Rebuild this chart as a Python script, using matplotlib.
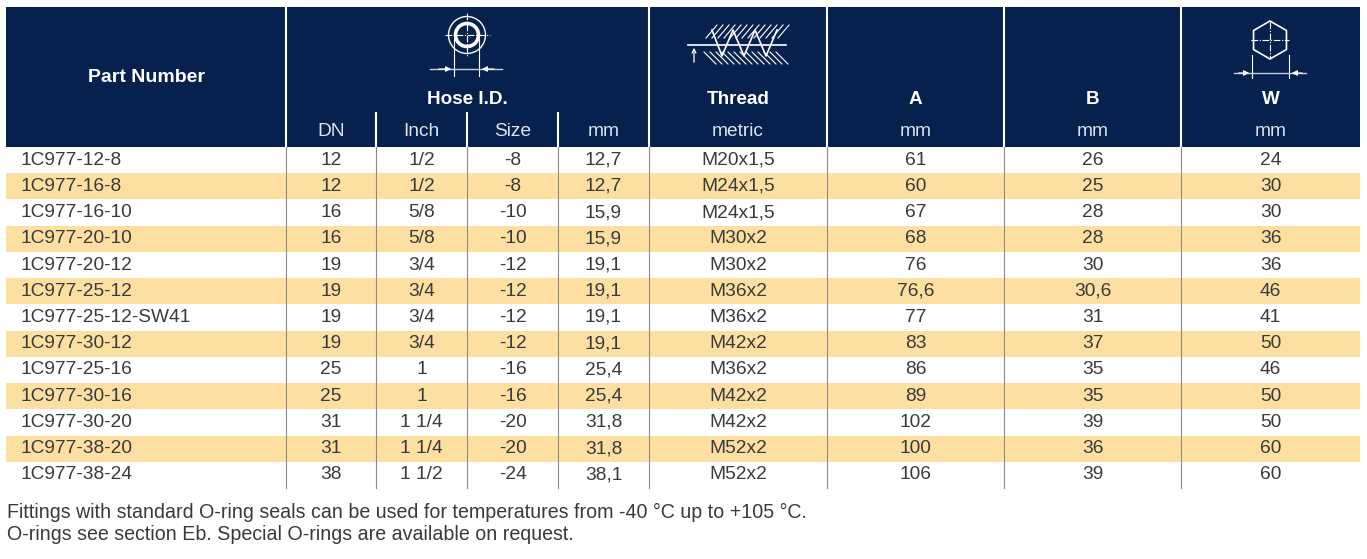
import matplotlib.pyplot as plt
import numpy as np
from matplotlib.patches import Rectangle, Circle, RegularPolygon

# table data
part_no = ['1C977-12-8', '1C977-16-8', '1C977-16-10', '1C977-20-10', '1C977-20-12',
           '1C977-25-12', '1C977-25-12-SW41', '1C977-30-12', '1C977-25-16', '1C977-30-16',
           '1C977-30-20', '1C977-38-20', '1C977-38-24']
dn = ['12', '12', '16', '16', '19', '19', '19', '19', '25', '25', '31', '31', '38']
inch = ['1/2', '1/2', '5/8', '5/8', '3/4', '3/4', '3/4', '3/4', '1', '1', '1 1/4', '1 1/4', '1 1/2']
size = ['-8', '-8', '-10', '-10', '-12', '-12', '-12', '-12', '-16', '-16', '-20', '-20', '-24']
hose_mm = ['12,7', '12,7', '15,9', '15,9', '19,1', '19,1', '19,1', '19,1', '25,4', '25,4', '31,8', '31,8', '38,1']
thread = ['M20x1,5', 'M24x1,5', 'M24x1,5', 'M30x2', 'M30x2', 'M36x2', 'M36x2', 'M42x2',
          'M36x2', 'M42x2', 'M42x2', 'M52x2', 'M52x2']
a_mm = ['61', '60', '67', '68', '76', '76,6', '77', '83', '86', '89', '102', '100', '106']
b_mm = ['26', '25', '28', '28', '30', '30,6', '31', '37', '35', '35', '39', '36', '39']
w_mm = ['24', '30', '30', '36', '36', '46', '41', '50', '46', '50', '50', '60', '60']

sub_headers = ['DN', 'Inch', 'Size', 'mm', 'metric', 'mm', 'mm', 'mm']
notes = ['Fittings with standard O-ring seals can be used for temperatures from -40 °C up to +105 °C.',
         'O-rings see section Eb. Special O-rings are available on request.']

# layout (pixels)
edges = [6, 286, 376, 467, 558, 649, 827, 1004, 1181, 1360]
head_top, head_bot = 7, 147
body_bot = 488
navy = '#07214f'
tan = '#fddfa1'
txt = '#3a3a3a'
font = 'Liberation Sans'
fs = 13.8

fig = plt.figure(figsize=(13.67, 5.59), dpi=100)
ax = fig.add_axes([0, 0, 1, 1])
ax.set_xlim(0, 1367)
ax.set_ylim(559, 0)
ax.axis('off')

# header block
ax.add_patch(Rectangle((edges[0], head_top), edges[-1] - edges[0], head_bot - head_top,
                       color=navy, lw=0))
for x in [286, 649, 827, 1004, 1181]:
    ax.plot([x, x], [head_top, head_bot], color='white', lw=1.5)
for x in [376, 467, 558]:
    ax.plot([x, x], [113, head_bot], color='white', lw=1.5)

ax.text((edges[0] + edges[1]) / 2, 78, 'Part Number', color='white', fontsize=14,
        fontweight='bold', ha='center', va='center', family=font)
ax.text((edges[1] + edges[5]) / 2, 99, 'Hose I.D.', color='white', fontsize=13.6,
        fontweight='bold', ha='center', va='center', family=font)
for lab, i in [('Thread', 5), ('A', 6), ('B', 7), ('W', 8)]:
    ax.text((edges[i] + edges[i + 1]) / 2, 99, lab, color='white', fontsize=13.6,
            fontweight='bold', ha='center', va='center', family=font)
for i, lab in enumerate(sub_headers):
    ax.text((edges[i + 1] + edges[i + 2]) / 2, 131, lab, color='#dfe3ec', fontsize=fs,
            ha='center', va='center', family=font)

# hose icon
cx, cy = 467, 35
ax.add_patch(Circle((cx, cy), 18.5, fill=False, ec='white', lw=1))
ax.add_patch(Circle((cx, cy), 11.5, fill=False, ec='white', lw=2.6))
ax.plot([cx, cx], [13, 57], color='white', lw=0.8, dashes=[6, 1.5, 1, 1.5])
ax.plot([445, 490], [cy, cy], color='white', lw=0.8, dashes=[6, 1.5, 1, 1.5])
ax.plot([454, 454], [39, 76], color='white', lw=0.8)
ax.plot([479, 479], [39, 76], color='white', lw=0.8)
ax.plot([430, 502], [69, 69], color='#c8cde0', lw=1)
ax.annotate('', xy=(454, 69), xytext=(436, 69),
            arrowprops=dict(arrowstyle='-|>', color='white', lw=0.8, mutation_scale=8))
ax.annotate('', xy=(479, 69), xytext=(497, 69),
            arrowprops=dict(arrowstyle='-|>', color='white', lw=0.8, mutation_scale=8))

# thread icon
ax.plot([688, 786], [45, 45], color='white', lw=1.2)
ax.annotate('', xy=(694, 45), xytext=(694, 65),
            arrowprops=dict(arrowstyle='->', color='white', lw=0.9, mutation_scale=7))
zx = [712, 722, 733, 744, 755, 766, 777]
zy = [30, 56, 30, 56, 30, 56, 30]
ax.plot(zx, zy, color='white', lw=1.2)
for x0 in np.arange(706, 784, 6):
    ax.plot([x0, x0 + 11], [38, 25], color='white', lw=0.8)
    ax.plot([x0 - 2, x0 + 10], [52, 64], color='white', lw=0.8)

# hex icon
hx, hy = 1270, 40
ax.add_patch(RegularPolygon((hx, hy), 6, radius=19, orientation=0, fill=False,
                            ec='white', lw=1.2))
ax.plot([hx, hx], [22, 58], color='white', lw=0.8, dashes=[6, 1.5, 1, 1.5])
ax.plot([1251, 1289], [hy, hy], color='white', lw=0.8, dashes=[6, 1.5, 1, 1.5])
ax.plot([1252, 1252], [55, 78], color='white', lw=0.8)
ax.plot([1289, 1289], [55, 78], color='white', lw=0.8)
ax.plot([1234, 1306], [73, 73], color='#c8cde0', lw=1)
ax.annotate('', xy=(1252, 73), xytext=(1236, 73),
            arrowprops=dict(arrowstyle='-|>', color='white', lw=0.8, mutation_scale=8))
ax.annotate('', xy=(1289, 73), xytext=(1305, 73),
            arrowprops=dict(arrowstyle='-|>', color='white', lw=0.8, mutation_scale=8))

# body rows
n = len(part_no)
row_h = (body_bot - head_bot) / n
cols = [dn, inch, size, hose_mm, thread, a_mm, b_mm, w_mm]
for r in range(n):
    top = head_bot + r * row_h
    if r % 2 == 1:
        ax.add_patch(Rectangle((edges[0], top), edges[-1] - edges[0], row_h, color=tan, lw=0))
    yc = top + row_h / 2
    ax.text(20, yc, part_no[r], color=txt, fontsize=fs, ha='left', va='center', family=font)
    for c, vals in enumerate(cols):
        ax.text((edges[c + 1] + edges[c + 2]) / 2, yc, vals[r], color=txt, fontsize=fs,
                ha='center', va='center', family=font)

for x in edges[1:-1]:
    ax.plot([x, x], [head_bot, body_bot], color='#8f8a85', lw=0.8)

# footnotes
for k, line in enumerate(notes):
    ax.text(7, 512 + k * 22, line, color=txt, fontsize=14.1, ha='left', va='center', family=font)

plt.savefig('out.png', dpi=100)
